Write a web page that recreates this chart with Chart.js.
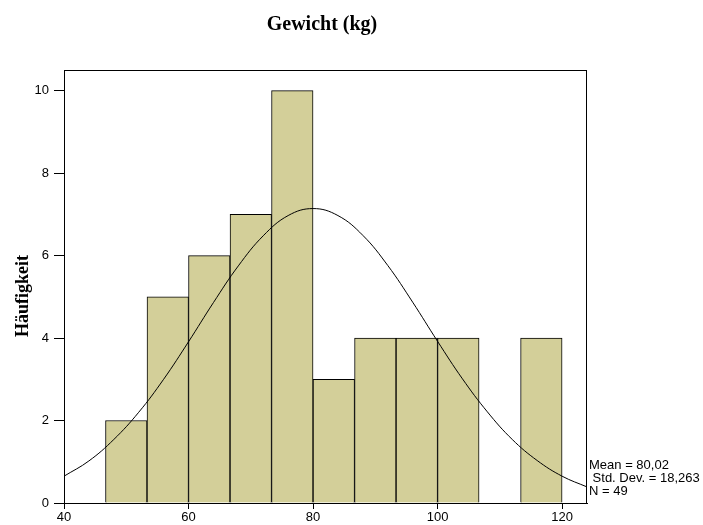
<!DOCTYPE html>
<html>
<head>
<meta charset="utf-8">
<script src="https://cdn.jsdelivr.net/npm/chart.js@4/dist/chart.umd.min.js"></script>
<style>
  body { margin: 0; background: #fff; }
</style>
</head>
<body>
<canvas id="myChart" width="703" height="525"></canvas>
<script>
// bin centres (width 20/3 kg) and counts
let binCenters = [50, 56.667, 63.333, 70, 76.667, 83.333, 90, 96.667, 103.333, 110, 116.667];
let counts = [2, 5, 6, 7, 10, 3, 4, 4, 4, 0, 4];

// normal curve
let curveX = [40, 44, 48, 52, 56, 60, 64, 68, 72, 76, 80, 84, 88, 92, 96, 100, 104, 108, 112, 116, 120, 124];
let curveY = [0.65, 1.02, 1.54, 2.2, 3.0, 3.91, 4.86, 5.75, 6.48, 6.97, 7.14, 6.97, 6.49, 5.76, 4.87, 3.92, 3.01, 2.21, 1.54, 1.03, 0.65, 0.39];

let xTicks = [40, 60, 80, 100, 120];
let yTicks = [0, 2, 4, 6, 8, 10];

let statsLines = ['Mean = 80,02', ' Std. Dev. = 18,263', 'N = 49'];

let barColor = '#D3CF99';
let tickFont = { family: "'Liberation Sans Narrow', 'Liberation Sans', Arial, sans-serif", size: 13 };

let extras = {
  id: 'extras',
  afterDraw(chart) {
    let ctx = chart.ctx;
    let a = chart.chartArea;
    ctx.save();
    ctx.strokeStyle = '#000';
    ctx.lineWidth = 1;
    ctx.strokeRect(a.left + 0.5, a.top + 0.5, a.right - a.left - 1, a.bottom - a.top);

    ctx.fillStyle = '#000';
    ctx.font = "bold 20px 'Liberation Serif', 'Times New Roman', serif";
    ctx.textAlign = 'center';
    ctx.textBaseline = 'middle';
    ctx.fillText('Gewicht (kg)', 322, 25);

    ctx.save();
    ctx.translate(23, 296);
    ctx.rotate(-Math.PI / 2);
    ctx.font = "bold 18px 'Liberation Serif', 'Times New Roman', serif";
    ctx.fillText('Häufigkeit', 0, 0);
    ctx.restore();

    ctx.font = "13px 'Liberation Sans Narrow', 'Liberation Sans', Arial, sans-serif";
    ctx.textAlign = 'left';
    statsLines.forEach((s, i) => {
      ctx.fillText(s, a.right + 2, 465 + i * 13);
    });
    ctx.restore();
  }
};

let ctx = document.getElementById('myChart').getContext('2d');
let myChart = new Chart(ctx, {
  data: {
    datasets: [{
      type: 'bar',
      data: binCenters.map((x, i) => ({ x: x, y: counts[i] })),
      backgroundColor: barColor,
      borderColor: '#000',
      borderWidth: 1,
      barPercentage: 1,
      categoryPercentage: 1,
      order: 2
    }, {
      type: 'line',
      data: curveX.map((x, i) => ({ x: x, y: curveY[i] })),
      borderColor: '#000',
      borderWidth: 1,
      pointRadius: 0,
      tension: 0.4,
      fill: false,
      order: 1
    }]
  },
  options: {
    responsive: false,
    animation: false,
    layout: { padding: { left: 0, top: 70, right: 116, bottom: 0 } },
    plugins: { legend: { display: false }, tooltip: { enabled: false } },
    scales: {
      x: {
        type: 'linear',
        min: 40,
        max: 124,
        offset: false,
        afterBuildTicks: (scale) => { scale.ticks = xTicks.map(v => ({ value: v })); },
        afterFit: (scale) => { scale.height = 22; },
        grid: { offset: false, drawOnChartArea: false, drawTicks: true, tickLength: 6, color: '#000' },
        border: { display: true, color: '#000' },
        ticks: { color: '#000', font: tickFont, padding: 1, maxRotation: 0 }
      },
      y: {
        min: 0,
        max: 10.5,
        afterBuildTicks: (scale) => { scale.ticks = yTicks.map(v => ({ value: v })); },
        afterFit: (scale) => { scale.width = 64; },
        grid: { drawOnChartArea: false, drawTicks: true, tickLength: 10, color: '#000' },
        border: { display: true, color: '#000' },
        ticks: { color: '#000', font: tickFont, padding: 5 }
      }
    }
  },
  plugins: [extras]
});
</script>
</body>
</html>
